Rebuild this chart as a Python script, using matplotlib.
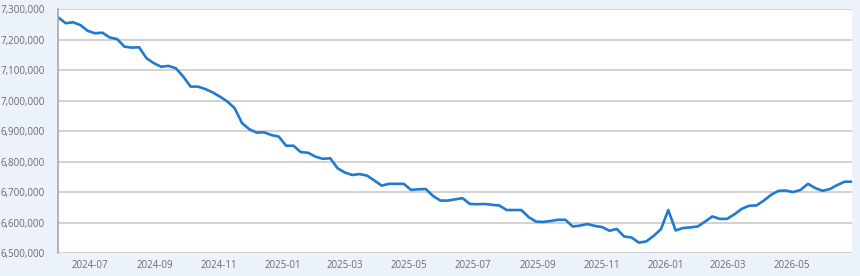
import numpy as np
import pandas as pd
import matplotlib
matplotlib.use("Agg")
import matplotlib.pyplot as plt
import matplotlib.dates as mdates
from matplotlib.ticker import FuncFormatter

# weekly values
inicio = "2024-06-01"
valores = [
    7274, 7255, 7258, 7249, 7230, 7222, 7224, 7208, 7203, 7178,
    7175, 7176, 7140, 7124, 7112, 7115, 7107, 7080, 7047, 7047,
    7039, 7028, 7014, 6998, 6976, 6927, 6907, 6896, 6897, 6888,
    6883, 6853, 6853, 6832, 6830, 6817, 6810, 6812, 6779, 6765,
    6757, 6760, 6755, 6739, 6722, 6728, 6728, 6728, 6708, 6710,
    6711, 6688, 6673, 6673, 6677, 6681, 6662, 6661, 6662, 6659,
    6657, 6642, 6642, 6642, 6619, 6604, 6603, 6606, 6610, 6610,
    6588, 6591, 6596, 6590, 6586, 6574, 6580, 6555, 6552, 6535,
    6539, 6557, 6579, 6642, 6575, 6583, 6585, 6588, 6604, 6621,
    6613, 6613, 6628, 6646, 6656, 6657, 6673, 6692, 6705, 6706,
    6701, 6708, 6728, 6714, 6705, 6711, 6724, 6735, 6735,
]
valores = np.array(valores) * 1000
fechas = pd.date_range(inicio, periods=len(valores), freq="7D")

y_ticks = np.arange(6_500_000, 7_300_001, 100_000)

fondo = "#ecf2fa"
gris_texto = "#6b6b6b"

fig = plt.figure(figsize=(8.6, 2.76), dpi=100, facecolor=fondo)
ax = fig.add_axes([0.0678, 0.0822, 0.9229, 0.8834])
ax.set_facecolor("white")

ax.plot(fechas, valores, color="#1f7ad0", linewidth=1.9, solid_joinstyle="round")

ax.set_xlim(fechas[0], fechas[-1])
ax.set_ylim(6_500_000, 7_300_000)
ax.set_yticks(y_ticks)
ax.yaxis.set_major_formatter(FuncFormatter(lambda v, p: f"{int(v):,}"))
ax.xaxis.set_major_locator(mdates.MonthLocator(bymonth=[1, 3, 5, 7, 9, 11]))
ax.xaxis.set_major_formatter(mdates.DateFormatter("%Y-%m"))

ax.grid(axis="y", color="#d2d2d2", linewidth=1.4)
ax.set_axisbelow(True)
for lado in ["top", "right", "bottom"]:
    ax.spines[lado].set_visible(False)
ax.spines["left"].set_color("#a8a8a8")
ax.spines["left"].set_linewidth(1.2)

ax.tick_params(axis="both", length=0, labelsize=7, labelcolor=gris_texto)
ax.tick_params(axis="y", pad=10)
ax.tick_params(axis="x", pad=5)
for t in ax.get_xticklabels() + ax.get_yticklabels():
    t.set_fontfamily("Open Sans")

fig.savefig("out.png", dpi=100, facecolor=fondo)
